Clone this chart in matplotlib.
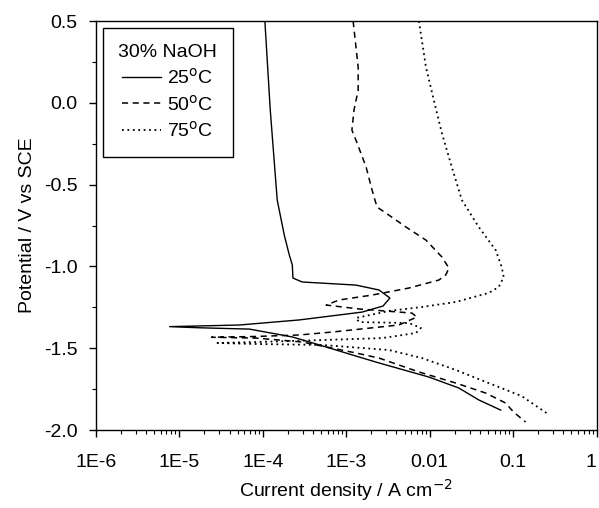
import matplotlib
matplotlib.use("Agg")
import matplotlib.pyplot as plt
from matplotlib.ticker import LogLocator, FixedLocator, MultipleLocator, FuncFormatter

plt.rcParams['font.family'] = ['Liberation Sans', 'DejaVu Sans']

# Polarisation curves: current density (A cm-2), potential (V vs SCE)
i_25 = [1.06e-4, 1.23e-4, 1.49e-4, 1.81e-4, 2.08e-4, 2.26e-4, 2.30e-4, 2.97e-4,
        1.31e-3, 2.47e-3, 3.34e-3, 2.76e-3, 1.55e-3, 2.74e-4, 5.25e-5, 7.66e-6,
        1.75e-5, 6.92e-5, 2.26e-4, 4.37e-4, 1.31e-3, 2.47e-3, 9.77e-3, 2.23e-2,
        3.87e-2, 7.09e-2]
e_25 = [0.50, -0.044, -0.594, -0.808, -0.930, -0.991, -1.071, -1.095,
        -1.114, -1.144, -1.193, -1.242, -1.279, -1.327, -1.358, -1.368,
        -1.375, -1.383, -1.431, -1.474, -1.548, -1.590, -1.676, -1.743,
        -1.816, -1.878]

i_50 = [1.21e-3, 1.39e-3, 1.39e-3, 1.24e-3, 1.17e-3, 1.35e-3, 1.73e-3, 2.04e-3,
        2.34e-3, 3.00e-3, 5.20e-3, 9.02e-3, 1.40e-2, 1.70e-2, 1.56e-2, 1.29e-2,
        5.64e-3, 2.04e-3, 8.22e-4, 5.75e-4, 1.43e-3, 6.12e-3, 7.03e-3, 4.28e-3,
        6.79e-4, 2.74e-4, 8.39e-5, 2.43e-5, 8.39e-5, 2.97e-4, 1.31e-3, 2.47e-3,
        7.43e-3, 2.06e-2, 4.69e-2, 8.13e-2, 1.01e-1, 1.41e-1]
e_50 = [0.50, 0.219, 0.078, -0.044, -0.166, -0.246, -0.392, -0.533,
        -0.637, -0.674, -0.759, -0.839, -0.942, -1.010, -1.052, -1.083,
        -1.132, -1.175, -1.205, -1.236, -1.260, -1.285, -1.309, -1.358,
        -1.401, -1.419, -1.428, -1.433, -1.438, -1.462, -1.529, -1.560,
        -1.645, -1.713, -1.774, -1.835, -1.890, -1.951]

i_75 = [7.43e-3, 9.02e-3, 1.12e-2, 1.40e-2, 1.84e-2, 2.43e-2, 3.87e-2, 6.18e-2,
        7.29e-2, 7.71e-2, 6.71e-2, 5.09e-2, 2.06e-2, 8.07e-3, 3.26e-3, 1.31e-3,
        1.43e-3, 5.64e-3, 7.85e-3, 6.84e-3, 2.69e-3, 5.15e-4, 8.39e-5, 2.87e-5,
        8.39e-5, 5.15e-4, 3.26e-3, 8.07e-3, 2.06e-2, 5.09e-2, 1.26e-1, 2.51e-1]
e_75 = [0.50, 0.219, 0.017, -0.185, -0.392, -0.594, -0.759, -0.900,
        -1.004, -1.065, -1.126, -1.162, -1.217, -1.248, -1.272, -1.315,
        -1.340, -1.346, -1.376, -1.407, -1.438, -1.450, -1.462, -1.468,
        -1.474, -1.480, -1.511, -1.560, -1.633, -1.713, -1.792, -1.896]

x_ticks = [1e-6, 1e-5, 1e-4, 1e-3, 1e-2, 1e-1, 1]
x_labels = ['1E-6', '1E-5', '1E-4', '1E-3', '0.01', '0.1', '1']


def main():
    fig = plt.figure(figsize=(5.99, 5.08), dpi=100)
    ax = fig.add_axes([0.160, 0.1535, 0.836, 0.805])

    ax.plot(i_25, e_25, color='black', lw=1.0, ls='-', label='25$^{\\rm o}$C')
    ax.plot(i_50, e_50, color='black', lw=1.1, ls=(0, (4, 3)), label='50$^{\\rm o}$C')
    ax.plot(i_75, e_75, color='black', lw=1.3, ls=(0, (1, 2)), label='75$^{\\rm o}$C')

    ax.set_xscale('log')
    ax.set_xlim(1e-6, 1)
    ax.set_ylim(-2.0, 0.5)

    ax.xaxis.set_major_locator(FixedLocator(x_ticks))
    ax.xaxis.set_major_formatter(FuncFormatter(lambda v, p: x_labels[x_ticks.index(v)] if v in x_ticks else ''))
    ax.xaxis.set_minor_locator(LogLocator(base=10, subs=range(2, 10), numticks=20))
    ax.yaxis.set_major_locator(MultipleLocator(0.5))
    ax.yaxis.set_minor_locator(MultipleLocator(0.25))
    ax.yaxis.set_major_formatter(FuncFormatter(lambda v, p: f'{v:.1f}'))

    ax.tick_params(which='both', direction='out', top=False, right=False, labelsize=14, colors='black')
    ax.tick_params(which='major', length=5, width=1)
    ax.tick_params(which='minor', length=3, width=0.8)
    ax.tick_params(axis='x', which='major', pad=12)
    ax.tick_params(axis='y', which='major', pad=8)
    for s in ax.spines.values():
        s.set_linewidth(1.0)

    # keep the last label ("1") inside the figure edge
    fig.canvas.draw()
    ax.get_xticklabels()[-1].set_horizontalalignment('right')

    ax.set_xlabel('Current density / A cm$^{-2}$', fontsize=14, labelpad=5)
    ax.set_ylabel('Potential / V vs SCE', fontsize=14, labelpad=6)

    leg = ax.legend(title='30% NaOH', loc='upper left', bbox_to_anchor=(0.014, 0.983),
                    borderaxespad=0, fontsize=14, title_fontsize=14, handlelength=2.0,
                    fancybox=False, framealpha=1, edgecolor='black', borderpad=0.8,
                    labelspacing=0.35, handletextpad=0.3)
    leg.get_frame().set_linewidth(1.0)

    fig.savefig('out.png', dpi=100)
    plt.close(fig)


if __name__ == '__main__':
    main()
